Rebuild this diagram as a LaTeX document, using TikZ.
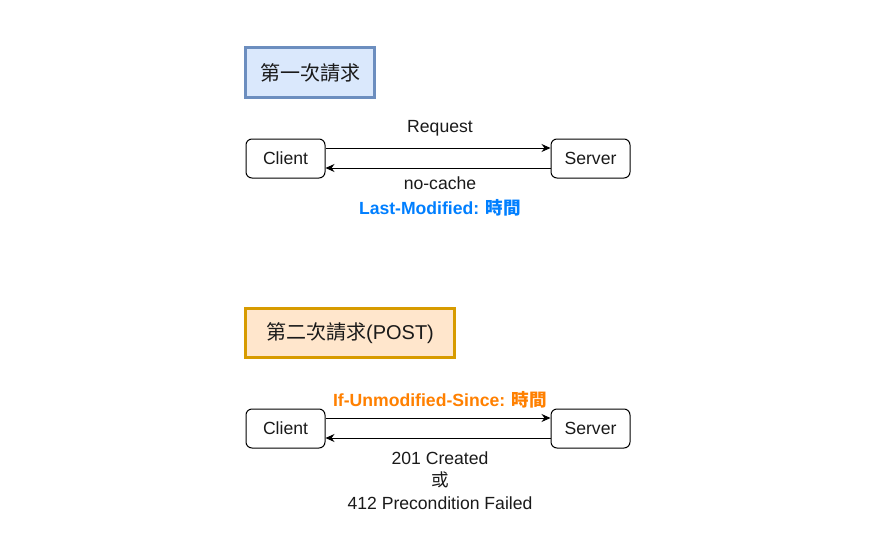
\documentclass[tikz,border=0pt]{standalone}
\usepackage{fontspec}
\setmainfont{Liberation Sans}
\newfontfamily\cjk{Noto Sans CJK TC}
\usetikzlibrary{arrows.meta}
\definecolor{blueFill}{HTML}{DAE8FC}
\definecolor{blueLine}{HTML}{6C8EBF}
\definecolor{orFill}{HTML}{FFE6CC}
\definecolor{orLine}{HTML}{D79B00}
\definecolor{lmBlue}{HTML}{007FFF}
\definecolor{lmOrange}{HTML}{FF8000}
\definecolor{txt}{HTML}{1A1A1A}
\tikzset{
  px/.style={x=1pt,y=-1pt},
  endpt/.style={draw=black,line width=1pt,rounded corners=6pt,minimum width=79pt,minimum height=39pt,inner sep=0pt,font=\fontsize{17.6}{20}\selectfont,text=txt},
  titlebox/.style={line width=3pt,inner sep=0pt,font=\fontsize{20}{24}\selectfont,text=txt},
  lbl/.style={font=\fontsize{17.6}{20}\selectfont,text=txt,inner sep=0pt},
  conn/.style={line width=1pt,-{Stealth[length=9pt,width=8pt]}},
}
\begin{document}
\begin{tikzpicture}[px]
\useasboundingbox (0,0) rectangle (885,559);
\fill[white] (0,0) rectangle (885,559);
% first request
\node[titlebox,draw=blueLine,fill=blueFill,minimum width=129pt,minimum height=50pt] (t1) at (310,72.5) {\cjk 第一次請求};
\node[endpt] (c1) at (285.5,158.5) {Client};
\node[endpt] (s1) at (590.5,158.5) {Server};
\draw[conn] (c1.east |- 0,148) -- (s1.west |- 0,148);
\draw[conn] (s1.west |- 0,168) -- (c1.east |- 0,168);
\node[lbl] (req) at (440,128) {Request};
\node[lbl] (nc) at (440,183) {no-cache};
\node[lbl,text=lmBlue,font=\fontsize{17.6}{20}\selectfont\bfseries] (lm) at (440,208) {Last-Modified: {\cjk 時間}};
% second request
\node[titlebox,draw=orLine,fill=orFill,minimum width=209pt,minimum height=49pt] (t2) at (350,333) {{\cjk 第二次請求}(POST)};
\node[endpt] (c2) at (285.5,428.5) {Client};
\node[endpt] (s2) at (590.5,428.5) {Server};
\draw[conn] (c2.east |- 0,418) -- (s2.west |- 0,418);
\draw[conn] (s2.west |- 0,438) -- (c2.east |- 0,438);
\node[lbl,text=lmOrange,font=\fontsize{17.6}{20}\selectfont\bfseries] (ius) at (440,400) {If-Unmodified-Since: {\cjk 時間}};
\node[lbl] (r1) at (440,458) {201 Created};
\node[lbl] (r2) at (440,480) {\cjk 或};
\node[lbl] (r3) at (440,503) {412 Precondition Failed};
\end{tikzpicture}
\end{document}
